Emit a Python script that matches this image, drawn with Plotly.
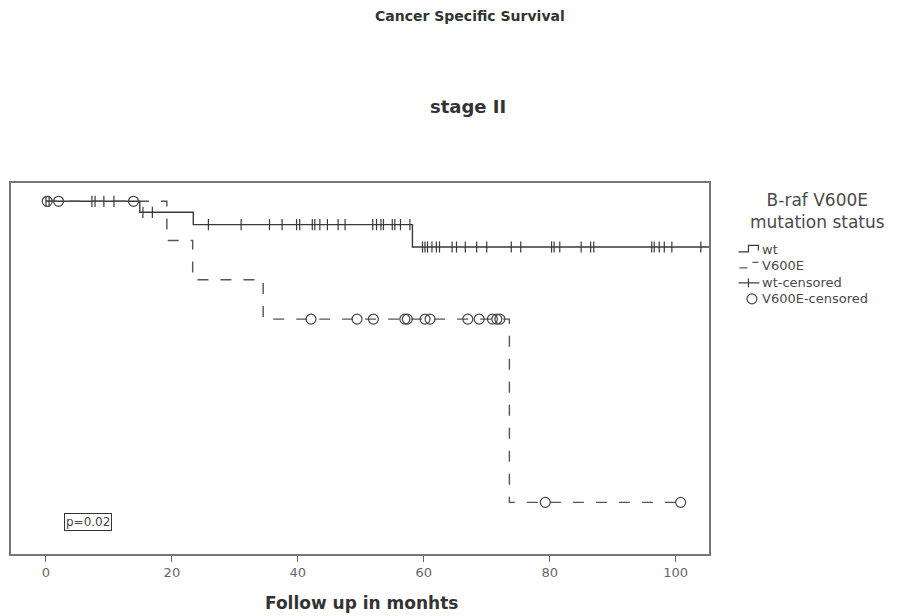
import plotly.graph_objects as go
import numpy as np

# ---------------- data ----------------
wt_step_times = [0.0, 14.9, 23.4, 58.2, 106.0]
wt_step_surv = [1.0, 0.9835, 0.965, 0.9315, 0.9315]

v600e_step_times = [0.0, 19.2, 23.3, 34.5, 73.6, 100.8]
v600e_step_surv = [1.0, 0.9412, 0.8824, 0.8235, 0.549, 0.549]

wt_censored_times = [0.0, 0.5, 7.3, 7.8, 9.2, 10.8, 15.4, 16.9, 25.8, 31.0, 35.5, 37.5,
                     39.8, 40.3, 42.3, 42.7, 43.5, 44.7, 46.4, 47.5, 51.9, 52.5, 53.2,
                     53.6, 55.0, 55.4, 56.3, 57.8, 59.8, 60.2, 60.6, 61.3, 62.0, 62.5,
                     64.5, 65.2, 66.6, 68.4, 70.0, 73.9, 75.4, 80.3, 80.7, 81.6, 85.0,
                     86.5, 87.0, 96.2, 96.6, 97.4, 98.2, 99.4, 104.0]
v600e_censored_times = [0.2, 2.0, 13.9, 42.1, 49.4, 52.0, 57.0, 57.4, 60.2, 61.0, 67.0,
                        68.8, 70.9, 71.6, 72.1, 79.3, 100.8]

x_tick_vals = [0, 20, 40, 60, 80, 100]
x_tick_text = ["0", "20", "40", "60", "80", "100"]

title_text = "Cancer Specific Survival"
subtitle_text = "stage II"
x_title = "Follow up in monhts"
p_text = "p=0.02"
legend_title = "B-raf V600E<br>mutation status"
legend_labels = ["wt", "V600E", "wt-censored", "V600E-censored"]


def surv_at(times, step_t, step_s):
    step_t = np.asarray(step_t)
    out = []
    for t in times:
        idx = np.searchsorted(step_t, t, side="right") - 1
        out.append(step_s[max(idx, 0)])
    return out


LINE = "#3a3a3a"
fig = go.Figure()

fig.add_trace(go.Scatter(x=wt_step_times, y=wt_step_surv, mode="lines",
                         line=dict(shape="hv", color=LINE, width=1.4),
                         hoverinfo="skip"))
fig.add_trace(go.Scatter(x=v600e_step_times, y=v600e_step_surv, mode="lines",
                         line=dict(shape="hv", color="#555555", width=1.4, dash="11px,12px"),
                         hoverinfo="skip"))
fig.add_trace(go.Scatter(x=wt_censored_times,
                         y=surv_at(wt_censored_times, wt_step_times, wt_step_surv),
                         mode="markers",
                         marker=dict(symbol="line-ns-open", size=8, color=LINE,
                                     line=dict(color=LINE, width=1.2))))
fig.add_trace(go.Scatter(x=v600e_censored_times,
                         y=surv_at(v600e_censored_times, v600e_step_times, v600e_step_surv),
                         mode="markers",
                         marker=dict(symbol="circle-open", size=10, color="#444444",
                                     line=dict(color="#444444", width=1.2))))

# page body has an 8px margin; work in window pixels and convert
OFF = 8
W, H = 905 - OFF, 616 - OFF
PLOT_L, PLOT_R, PLOT_T, PLOT_B = 10.5, 709.5, 182.5, 554  # window pixels
L = PLOT_L - OFF
T = PLOT_T - OFF
R = W - (PLOT_R - OFF)
B = H - (PLOT_B - OFF)
PW, PH = W - L - R, H - T - B


def X(px):
    return (px - PLOT_L) / PW


def Y(py):
    return (PLOT_B - py) / PH


annotations = [
    dict(text="<b>" + title_text + "</b>", x=X(470), y=Y(15), xref="paper", yref="paper",
         showarrow=False, xanchor="center", yanchor="middle",
         font=dict(family="DejaVu Sans", size=14, color="#333333")),
    dict(text="<b>" + subtitle_text + "</b>", x=X(468), y=Y(106), xref="paper", yref="paper",
         showarrow=False, xanchor="center", yanchor="middle",
         font=dict(family="DejaVu Sans", size=18, color="#333333")),
    dict(text="<b>" + x_title + "</b>", x=X(362), y=Y(603), xref="paper", yref="paper",
         showarrow=False, xanchor="center", yanchor="middle",
         font=dict(family="DejaVu Sans", size=17, color="#333333")),
    dict(text=p_text, x=X(88), y=Y(522), xref="paper", yref="paper",
         showarrow=False, xanchor="center", yanchor="middle",
         bordercolor="#333333", borderwidth=1, borderpad=1, bgcolor="white",
         font=dict(family="DejaVu Sans", size=12, color="#444444")),
    dict(text=legend_title, x=X(818), y=Y(211), xref="paper", yref="paper",
         showarrow=False, xanchor="center", yanchor="middle",
         font=dict(family="DejaVu Sans", size=17, color="#4a4a4a")),
]
leg_y = [249, 265.5, 282, 298.5]
for lab, yy in zip(legend_labels, leg_y):
    annotations.append(dict(text=lab, x=X(761), y=Y(yy), xref="paper", yref="paper",
                            showarrow=False, xanchor="left", yanchor="middle",
                            font=dict(family="DejaVu Sans", size=13, color="#4a4a4a")))

shapes = [
    dict(type="path", xref="paper", yref="paper",
         path=f"M {X(739)} {Y(251.5)} L {X(749)} {Y(251.5)} L {X(749)} {Y(245)} L {X(759)} {Y(245)} L {X(759)} {Y(250)}",
         line=dict(color=LINE, width=1.2)),
    dict(type="line", xref="paper", yref="paper", x0=X(740), x1=X(748), y0=Y(267.5), y1=Y(267.5),
         line=dict(color="#555555", width=1.2)),
    dict(type="line", xref="paper", yref="paper", x0=X(753), x1=X(759), y0=Y(262), y1=Y(262),
         line=dict(color="#555555", width=1.2)),
    dict(type="line", xref="paper", yref="paper", x0=X(739), x1=X(760), y0=Y(282.5), y1=Y(282.5),
         line=dict(color=LINE, width=1.2)),
    dict(type="line", xref="paper", yref="paper", x0=X(749), x1=X(749), y0=Y(278), y1=Y(287),
         line=dict(color=LINE, width=1.2)),
    dict(type="circle", xref="paper", yref="paper", x0=X(747.5), x1=X(757.5),
         y0=Y(303.5), y1=Y(293.5), line=dict(color="#444444", width=1.2)),
]

fig.update_layout(
    width=W, height=H,
    margin=dict(l=L, r=R, t=T, b=B),
    paper_bgcolor="white", plot_bgcolor="white",
    showlegend=False,
    annotations=annotations,
    shapes=shapes,
    xaxis=dict(range=[-5.55, 105.3], tickvals=x_tick_vals, ticktext=x_tick_text,
               ticks="outside", ticklen=6, tickcolor="#666666", tickwidth=1.2,
               showline=True, mirror=True, linecolor="#777777", linewidth=1.5,
               showgrid=False, zeroline=False,
               tickfont=dict(family="DejaVu Sans", size=13, color="#666666")),
    yaxis=dict(range=[0.4716, 1.0274], showticklabels=False, ticks="",
               showline=True, mirror=True, linecolor="#777777", linewidth=1.5,
               showgrid=False, zeroline=False),
)

fig.write_html("out.html")
